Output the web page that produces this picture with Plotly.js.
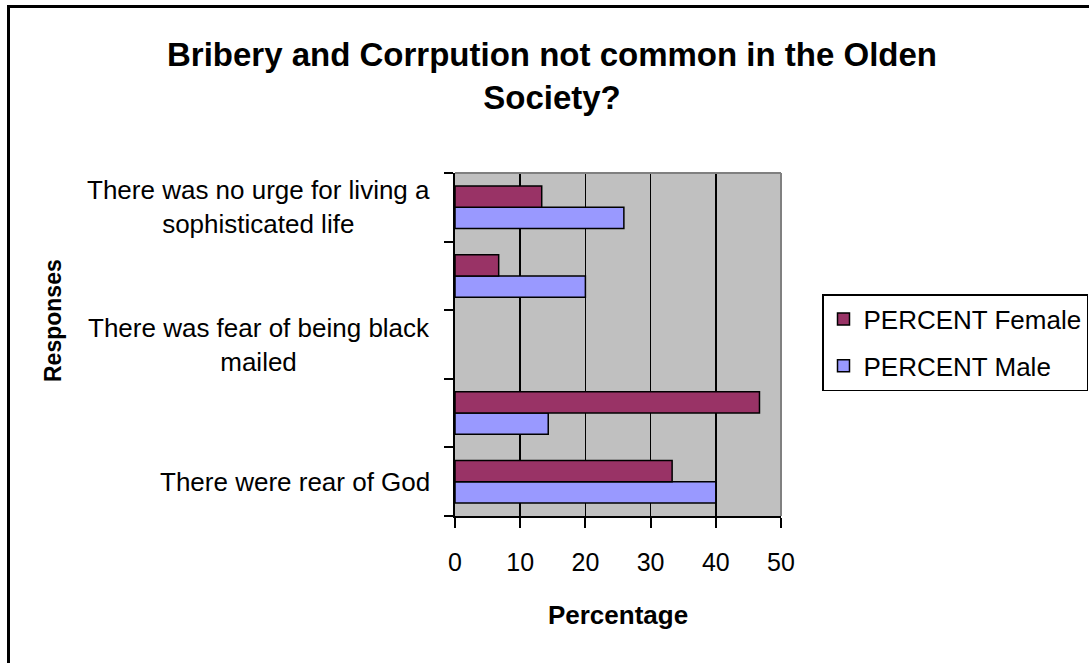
<!DOCTYPE html>
<html>
<head>
<meta charset="utf-8">
<script src="https://cdn.plot.ly/plotly-3.0.1.min.js"></script>
<style>
  html, body { margin: 0; padding: 0; background: #ffffff; overflow: hidden; }
  #wrap { position: relative; width: 1089px; height: 663px; }
  #chart { width: 1089px; height: 663px; }
  #frame { position: absolute; left: 7px; top: 5px; width: 1200px; height: 800px;
           border: 3px solid #000000; pointer-events: none; box-sizing: border-box; }
</style>
</head>
<body>
<div id="wrap">
  <div id="chart"></div>
  <div id="frame"></div>
</div>
<script>
// Categories, bottom to top (labels for the 2nd and 4th are not shown in the original)
const categories = [
  "There were rear of God",
  "Response 2",
  "There was fear of being black mailed",
  "Response 4",
  "There was no urge for living a sophisticated life"
];
const tickLabels = [
  "There were rear of God",
  "",
  "There was fear of being black<br>mailed",
  "",
  "There was no urge for living a<br>sophisticated life"
];
const percentFemale = [33.3, 46.7, null, 6.7, 13.3];
const percentMale   = [40.0, 14.3, null, 20.0, 25.9];
const xTicks = [0, 10, 20, 30, 40, 50];

const W = 1089, H = 663;
const L = 455, R = 781, T = 173, B = 516;
const pw = R - L, ph = B - T;
const px = v => (v - L) / pw;
const py = v => (B - v) / ph;

const FONT = "Liberation Sans, Arial, sans-serif";

// category slots on a numeric axis: slot i holds categories[i]
const slots = categories.map((c, i) => i);
// tick marks sit on the boundaries between category slots, as in the original
const boundaryTicks = [];
for (let i = 0; i <= categories.length; i++) boundaryTicks.push(i - 0.5);

const traces = [
  {
    type: "bar", orientation: "h", name: "PERCENT Male",
    y: slots, x: percentMale, text: categories,
    textposition: "none",
    marker: { color: "#9999FF", line: { color: "#000000", width: 1.5 } },
    legendgroup: "m", legendrank: 2, hovertemplate: "%{text}: %{x}<extra>PERCENT Male</extra>"
  },
  {
    type: "bar", orientation: "h", name: "PERCENT Female",
    y: slots, x: percentFemale, text: categories,
    textposition: "none",
    marker: { color: "#993366", line: { color: "#000000", width: 1.5 } },
    legendgroup: "f", legendrank: 1, hovertemplate: "%{text}: %{x}<extra>PERCENT Female</extra>"
  }
];

const annotations = slots.map((s, i) => ({
  xref: "paper", yref: "y", x: px(432), y: s,
  xanchor: "right", yanchor: "middle", align: "center",
  text: tickLabels[i], showarrow: false,
  font: { family: FONT, size: 26, color: "#000000" }
})).filter(a => a.text !== "");

annotations.push({
  xref: "paper", yref: "paper", x: px(53), y: py(321),
  xanchor: "center", yanchor: "middle", textangle: -90,
  text: "Responses", showarrow: false,
  font: { family: FONT, size: 23, color: "#000000", weight: "bold" }
});

const layout = {
  width: W, height: H,
  margin: { l: L, r: W - R, t: T, b: H - B, pad: 0, autoexpand: false },
  paper_bgcolor: "#ffffff",
  plot_bgcolor: "#C0C0C0",
  barmode: "group",
  bargap: 0.38,
  bargroupgap: 0,
  title: {
    text: "Bribery and Corrpution not common in the Olden<br>Society?",
    xref: "container", yref: "container",
    x: 552 / W, xanchor: "center",
    y: 1 - 66 / H, yanchor: "top",
    font: { family: FONT, size: 33, color: "#000000", weight: "bold" }
  },
  xaxis: {
    range: [0, 50],
    tickmode: "array", tickvals: xTicks, ticktext: xTicks.map(String),
    showgrid: true, gridcolor: "#000000", gridwidth: 1.5,
    zeroline: false,
    showline: true, linecolor: "#000000", linewidth: 2,
    ticks: "outside", ticklen: 10, tickwidth: 2, tickcolor: "#000000",
    tickfont: { family: FONT, size: 25, color: "#000000" },
    ticklabelstandoff: 13,
    title: {
      text: "Percentage", standoff: 31,
      font: { family: FONT, size: 26, color: "#000000", weight: "bold" }
    },
    fixedrange: true
  },
  yaxis: {
    type: "linear",
    range: [-0.5, categories.length - 0.5],
    tickmode: "array", tickvals: boundaryTicks, ticktext: boundaryTicks.map(() => ""),
    showticklabels: false,
    ticks: "outside", ticklen: 9, tickwidth: 2, tickcolor: "#000000",
    showgrid: false, zeroline: false,
    showline: true, linecolor: "#000000", linewidth: 2,
    fixedrange: true
  },
  showlegend: true,
  legend: {
    x: px(822), y: py(294), xanchor: "left", yanchor: "top",
    bgcolor: "#ffffff", bordercolor: "#000000", borderwidth: 1.5,
    traceorder: "grouped", tracegroupgap: 10,
    font: { family: FONT, size: 26, color: "#000000" },
    itemwidth: 30
  },
  annotations: annotations,
  shapes: [
    { type: "line", xref: "paper", yref: "paper", x0: 0, x1: 1, y0: 1, y1: 1,
      line: { color: "#808080", width: 2 }, layer: "above" },
    { type: "line", xref: "paper", yref: "paper", x0: 1, x1: 1, y0: 0, y1: 1,
      line: { color: "#808080", width: 2 }, layer: "above" }
  ]
};

Plotly.newPlot("chart", traces, layout, { displayModeBar: false, staticPlot: true });
</script>
</body>
</html>
